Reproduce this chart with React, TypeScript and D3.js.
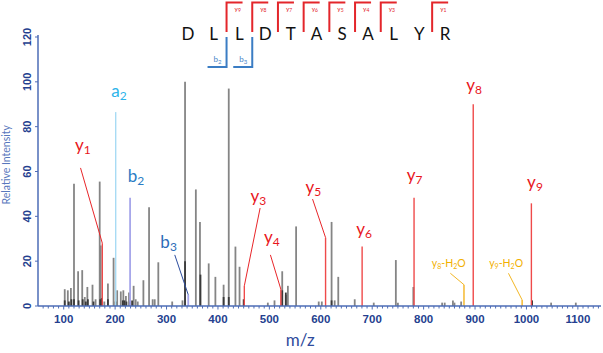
import * as d3 from 'd3';

const width = 603;
const height = 353;
const [mt, mr, mb, ml] = [37, 2, 47, 38];

// peak lists: [m/z, relative intensity]
const grayPeaks: [number, number][] = [
    [102, 7.5], [108, 7], [114, 8], [120, 54.5], [128, 15.5], [136, 16], [141, 4], [146, 8.5],
    [156, 9.5], [162, 3], [170, 55.5], [172, 27], [179, 2], [186, 10], [197, 21.5], [204, 7],
    [211, 6.5], [216, 7], [221, 4.5], [227, 6], [236, 9], [240, 3], [244, 2], [255, 11.5],
    [266, 44], [273, 3], [277, 3], [284, 19.5], [311, 2], [331, 2.5], [336, 100], [357, 52],
    [365, 37.5], [382, 19], [395, 13], [411, 9.5], [421, 97], [434, 26.5], [442, 17.5],
    [497, 1.5], [510, 2.5], [525, 15.5], [532, 5], [536, 9], [552, 35.5], [596, 2], [602, 2],
    [621, 37.5], [627, 2.5], [634, 13], [666, 3], [703, 1.5], [746, 20.5], [750, 1.5],
    [780, 8.5], [836, 1.5], [841, 1.5], [857, 2.5], [860, 1.5], [873, 2], [1048, 1.5], [1096, 1.5]
];

const basePeaks: [number, number][] = [
    [102, 2.5], [110, 2], [115, 3], [120, 3], [129, 2.5], [137, 3], [143, 2], [147, 3],
    [158, 2], [171, 3], [174, 3.5], [186, 3], [201, 2], [215, 2.5], [218, 2.5], [222, 2],
    [229, 2], [233, 2.5], [336, 20], [366, 14], [411, 4], [421, 4], [450, 3], [525, 7],
    [532, 6], [621, 2.5], [1011, 2.5]
];

const ionNames = ['y1', 'a2', 'b2', 'b3', 'y3', 'y4', 'y5', 'y6', 'y7', 'y8', 'y9', 'y8-H2O', 'y9-H2O'];
const ionTypes = ['y', 'a', 'b', 'b3', 'y', 'y', 'y', 'y', 'y', 'y', 'y', 'w', 'w'];
const ionMz = [175.1, 201.1, 229.1, 342.2, 451.3, 522.3, 609.3, 680.4, 781.4, 896.5, 1009.6, 878.5, 991.6];
const ionInt = [28, 86.5, 48.3, 5, 9, 7.5, 30.5, 26.5, 48.3, 90, 45.8, 9.5, 2.7];

const sequence = ['D', 'L', 'L', 'D', 'T', 'A', 'S', 'A', 'L', 'Y', 'R'];
const yBreaks = [['9', 1], ['8', 2], ['7', 3], ['6', 4], ['5', 5], ['4', 6], ['3', 7], ['1', 9]] as const;
const bBreaks = [['2', 1], ['3', 2]] as const;

const xTicks = [100, 200, 300, 400, 500, 600, 700, 800, 900, 1000, 1100];
const yTicks = [0, 20, 40, 60, 80, 100, 120];

// label layout in data units: [left m/z, baseline intensity], leader [from m/z, from int] or null
const labelAnchor: [number, number][] = [
    [122, 69.3], [192.5, 93.4], [224.7, 55.5], [288, 25.7], [463.5, 46.5], [489.7, 28.2],
    [570.3, 50.3], [668.9, 31.8], [767.3, 55.6], [882.8, 95.8], [1001.3, 52.8], [816, 17.4], [927.5, 17.4]
];
const leaderFrom: ([number, number] | null)[] = [
    [132.7, 61.6], null, null, [316, 22.8], [482, 43.7], [502, 22.8], [584, 47.7],
    null, null, null, null, [852, 14.6], [965, 14.6]
];

const peakColor: Record<string, string> = { y: '#ef4a4a', a: '#a8dbf4', b: '#a6a6ea', b3: '#a6a6ea', w: '#f4b422' };
const textColor: Record<string, string> = { y: '#e8161c', a: '#2db4ea', b: '#2a7cc4', b3: '#2d6cb8', w: '#f2b000' };
const leaderColor: Record<string, string> = { y: '#e8262a', a: '#2db4ea', b: '#2a7cc4', b3: '#2b4c9e', w: '#f2b624' };

const axisColor = '#4d6cb6';
const tickText = '#253f8f';
const labelFont = 'Lato, "Open Sans", sans-serif';

function IonLabel({ name, type, x, y }: { name: string; type: string; x: number; y: number }) {
    const fill = textColor[type];
    if (type === 'w') {
        const [, n] = name.match(/^y(\d)/)!;
        return (
            <text x={x} y={y} fill={fill} fontSize={10.5} fontFamily={labelFont}>
                y<tspan fontSize={7} dy={2}>{n}</tspan>
                <tspan dy={-2}>-H</tspan>
                <tspan fontSize={7} dy={2}>2</tspan>
                <tspan dy={-2}>O</tspan>
            </text>
        );
    }
    return (
        <text x={x} y={y} fill={fill} fontSize={17} fontFamily={labelFont}>
            {name[0]}
            <tspan fontSize={12} dy={3}>
                {name.slice(1)}
            </tspan>
        </text>
    );
}

export default function App() {
    const xScale = d3.scaleLinear().domain([50, 1145]).range([ml, width - mr]);
    const yScale = d3.scaleLinear().domain([0, 120]).range([height - mb, mt]);
    const seqX = d3.scaleLinear().domain([0, sequence.length - 1]).range([188, 445]);
    const y0 = yScale(0);
    const minorTicks = d3.range(60, 1141, 10);

    return (
        <svg width={width} height={height} style={{ position: 'absolute', left: 0, top: 0, background: '#fff' }}>
            {/* sequence with fragment brackets */}
            <g>
                {sequence.map((s, i) => (
                    <text key={i} x={seqX(i)} y={40} textAnchor="middle" fontSize={17} fontFamily={labelFont} fill="#111">
                        {s}
                    </text>
                ))}
                {yBreaks.map(([n, k]) => {
                    const bx = (seqX(k) + seqX(k + 1)) / 2;
                    return (
                        <g key={n}>
                            <path d={`M${bx},32V2.5H${bx + 16}`} fill="none" stroke="#e3262b" strokeWidth={2} />
                            <text x={bx + 8} y={11} fontSize={6.5} fill="#e3262b" fontFamily={labelFont}>
                                y<tspan fontSize={5} dy={1}>{n}</tspan>
                            </text>
                        </g>
                    );
                })}
                {bBreaks.map(([n, k]) => {
                    const bx = (seqX(k) + seqX(k + 1)) / 2;
                    return (
                        <g key={n}>
                            <path d={`M${bx},37V67H${bx - 19}`} fill="none" stroke="#3b7dc4" strokeWidth={2} />
                            <text x={bx - 13} y={62} fontSize={8} fill="#4a86c8" fontFamily={labelFont}>
                                b<tspan fontSize={6} dy={1.5}>{n}</tspan>
                            </text>
                        </g>
                    );
                })}
            </g>

            {/* peaks */}
            <g>
                {grayPeaks.map(([m, v], i) => (
                    <line key={i} x1={xScale(m)} x2={xScale(m)} y1={y0} y2={yScale(v)} stroke="#858585" strokeWidth={1.8} />
                ))}
                {basePeaks.map(([m, v], i) => (
                    <line key={i} x1={xScale(m)} x2={xScale(m)} y1={y0} y2={yScale(v)} stroke="#3a3a3a" strokeWidth={1.8} />
                ))}
                {ionMz.map((m, i) => (
                    <line
                        key={i}
                        x1={xScale(m)}
                        x2={xScale(m)}
                        y1={y0}
                        y2={yScale(ionInt[i])}
                        stroke={peakColor[ionTypes[i]]}
                        strokeWidth={ionTypes[i] === 'b' || ionTypes[i] === 'b3' ? 1.8 : 1.4}
                    />
                ))}
            </g>

            {/* ion labels and leaders */}
            <g>
                {ionNames.map((name, i) => {
                    const t = ionTypes[i];
                    const from = leaderFrom[i];
                    const [lm, lv] = labelAnchor[i];
                    return (
                        <g key={name}>
                            {from && (
                                <line
                                    x1={xScale(from[0])}
                                    y1={yScale(from[1])}
                                    x2={xScale(ionMz[i])}
                                    y2={yScale(ionInt[i])}
                                    stroke={leaderColor[t]}
                                    strokeWidth={1}
                                />
                            )}
                            <IonLabel name={name} type={t} x={xScale(lm)} y={yScale(lv)} />
                        </g>
                    );
                })}
            </g>

            {/* axes */}
            <g>
                <line x1={ml} x2={ml} y1={mt - 2} y2={y0} stroke={axisColor} strokeWidth={1.5} />
                <line x1={ml} x2={width - mr} y1={y0} y2={y0} stroke={axisColor} strokeWidth={1.5} />
                {minorTicks.map((t) => (
                    <line key={t} x1={xScale(t)} x2={xScale(t)} y1={y0} y2={y0 + (t % 100 === 0 ? 3.5 : 2.5)} stroke={axisColor} strokeWidth={1} />
                ))}
                {xTicks.map((t) => (
                    <text key={t} x={xScale(t)} y={y0 + 17} textAnchor="middle" fontSize={11.5} fontWeight="bold" fill={tickText} fontFamily='"Liberation Sans", Arial, sans-serif'>
                        {t}
                    </text>
                ))}
                {yTicks.map((t) => (
                    <g key={t}>
                        <line x1={ml - 3} x2={ml} y1={yScale(t)} y2={yScale(t)} stroke={axisColor} strokeWidth={1} />
                        <text
                            transform={`translate(${ml - 7},${yScale(t)}) rotate(-90)`}
                            textAnchor="middle"
                            fontSize={11}
                            fontWeight="bold"
                            fill={tickText}
                            fontFamily='"Liberation Sans", Arial, sans-serif'
                        >
                            {t}
                        </text>
                    </g>
                ))}
                <text transform={`translate(10,${yScale(63)}) rotate(-90)`} textAnchor="middle" fontSize={10.5} fill="#5877bd" fontFamily={labelFont}>
                    Relative Intensity
                </text>
                <text x={xScale(560)} y={346} textAnchor="middle" fontSize={17} fill="#2f4c9c" fontFamily={labelFont}>
                    m/z
                </text>
            </g>
        </svg>
    );
}
